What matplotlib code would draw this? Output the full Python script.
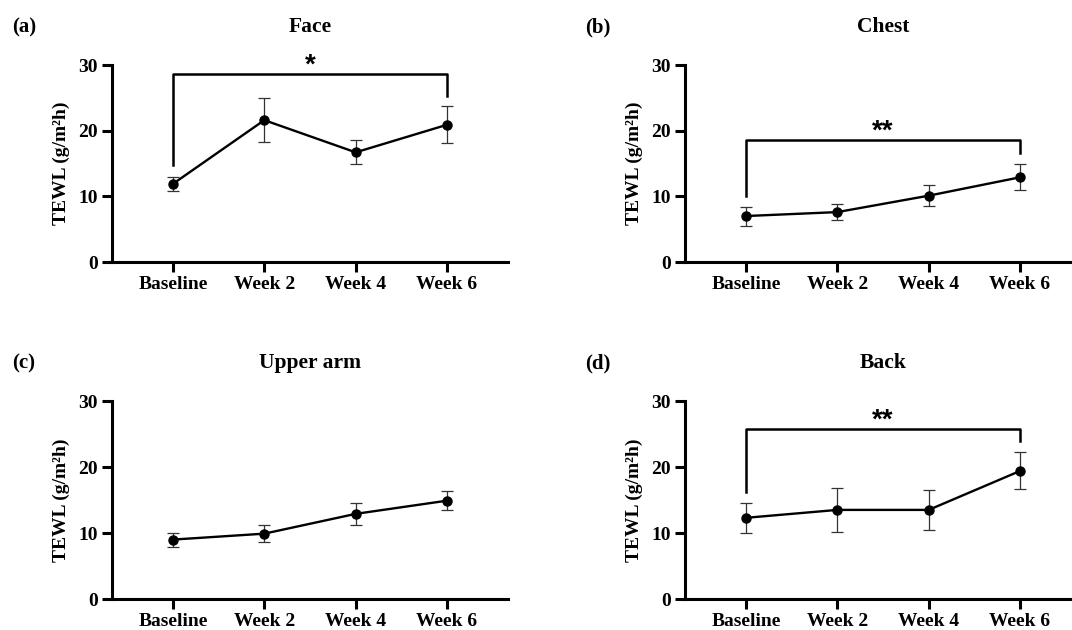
import matplotlib
matplotlib.use("Agg")
import matplotlib.pyplot as plt
import numpy as np

plt.rcParams["font.family"] = ["Liberation Serif", "DejaVu Serif"]
plt.rcParams["font.weight"] = "bold"

timepoints = ["Baseline", "Week 2", "Week 4", "Week 6"]

# mean TEWL and SD per site
face_mean = [11.9, 21.6, 16.7, 20.9]
face_err = [1.1, 3.4, 1.85, 2.8]
chest_mean = [7.0, 7.6, 10.1, 12.9]
chest_err = [1.45, 1.2, 1.55, 2.0]
arm_mean = [9.0, 9.9, 12.9, 14.9]
arm_err = [1.05, 1.3, 1.7, 1.4]
back_mean = [12.3, 13.5, 13.5, 19.4]
back_err = [2.25, 3.3, 3.0, 2.8]

# significance brackets: (height, left leg bottom, right leg bottom, label)
face_sig = (28.6, 14.7, 25.3, "*")
chest_sig = (18.6, 10.1, 16.6, "**")
back_sig = (25.7, 16.2, 23.9, "**")

panels = [
    ("(a)", "Face", face_mean, face_err, face_sig),
    ("(b)", "Chest", chest_mean, chest_err, chest_sig),
    ("(c)", "Upper arm", arm_mean, arm_err, None),
    ("(d)", "Back", back_mean, back_err, back_sig),
]

W, H = 1072, 630
fig = plt.figure(figsize=(W / 100, H / 100), dpi=100)

# axes boxes in pixels: left, top, right, bottom
boxes = [(112, 65, 508, 262), (685, 65, 1081, 262),
         (112, 401, 508, 599), (685, 401, 1081, 599)]

x = np.arange(len(timepoints))

for (tag, title, mean, err, sig), (l, t, r, b) in zip(panels, boxes):
    ax = fig.add_axes([l / W, 1 - b / H, (r - l) / W, (b - t) / H])
    ax.errorbar(x, mean, yerr=err, color="black", lw=1.7, marker="o", ms=6.5,
                ecolor="#333333", elinewidth=0.9, capsize=4.5, capthick=0.9, zorder=3)
    ax.set_xlim(-0.667, 3.667)
    ax.set_ylim(0, 30)
    ax.set_yticks([0, 10, 20, 30])
    ax.set_xticks(x)
    ax.set_xticklabels(timepoints)
    for s in ["top", "right"]:
        ax.spines[s].set_visible(False)
    for s in ["left", "bottom"]:
        ax.spines[s].set_linewidth(2.2)
    ax.tick_params(axis="both", width=2.2, length=7, labelsize=14, pad=3)
    ax.set_ylabel("TEWL (g/m²h)", fontsize=14, fontweight="bold", labelpad=6)
    ax.set_title(title, fontsize=15.5, fontweight="bold", pad=23.5)
    fig.text((l - 100) / W, 1 - (t - 38) / H, tag,
             fontsize=15, fontweight="bold", va="center", ha="left")
    if sig is not None:
        yb, y1, y2, lab = sig
        ax.plot([0, 0, 3, 3], [y1, yb, yb, y2], color="black", lw=1.8, clip_on=False)
        ax.annotate(lab, (1.5, yb), xytext=(0, 1), textcoords="offset points",
                    ha="center", va="baseline", fontsize=20, fontweight="bold",
                    family=["Liberation Sans", "DejaVu Sans"], annotation_clip=False)

fig.savefig("out.png", dpi=100)
